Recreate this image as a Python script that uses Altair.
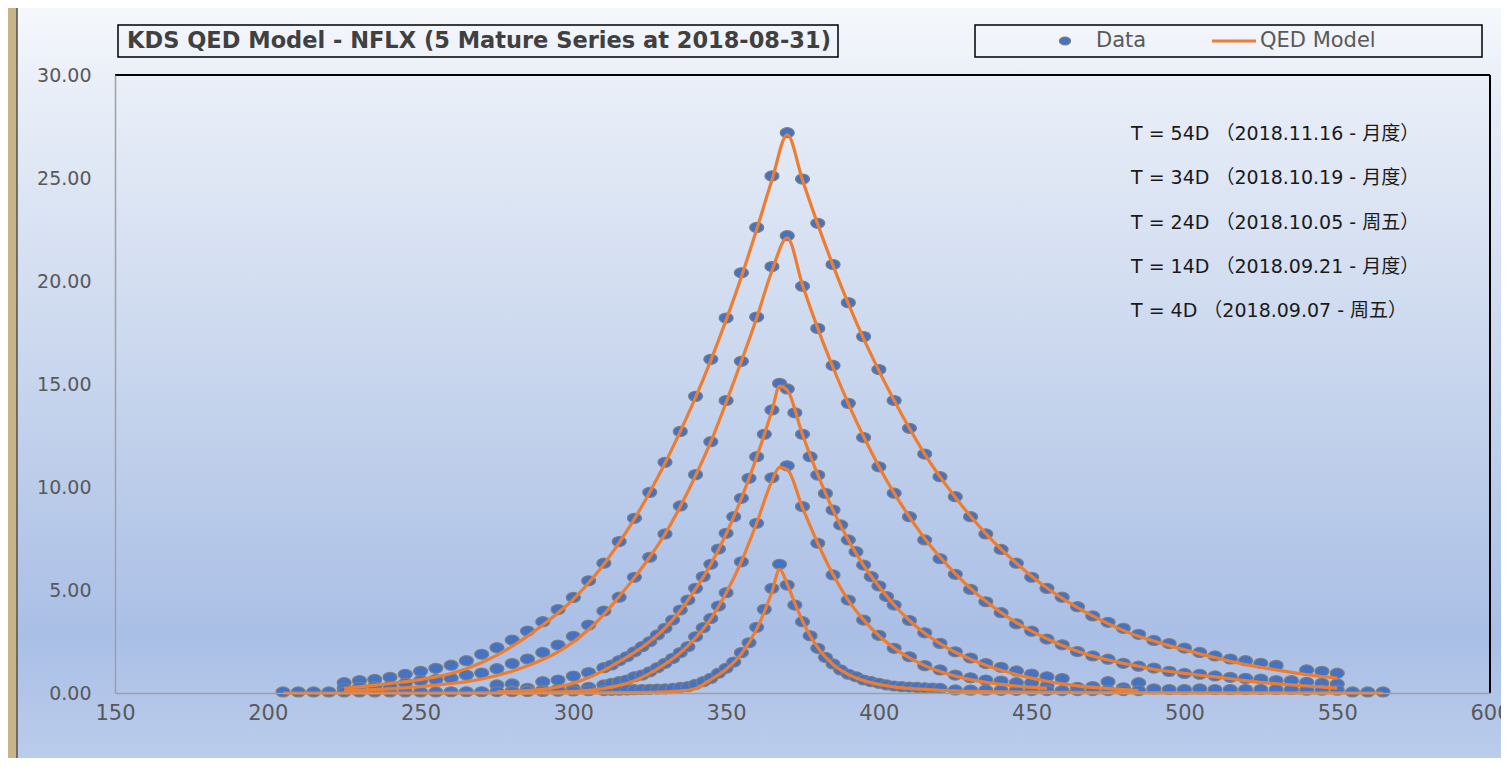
import altair as alt
import pandas as pd

# ---------------- data ----------------
SERIES = ["54D", "34D", "24D", "14D", "4D"]

K54 = [225, 230, 235, 240, 245, 250, 255, 260, 265, 270, 275, 280, 285, 290, 295, 300,
       305, 310, 315, 320, 325, 330, 335, 340, 345, 350, 355, 360, 365, 370, 375, 380,
       385, 390, 395, 400, 405, 410, 415, 420, 425, 430, 435, 440, 445, 450, 455, 460,
       465, 470, 475, 480, 485, 490, 495, 500, 505, 510, 515, 520, 525, 530, 540, 545, 550]
V54 = [0.50, 0.60, 0.66, 0.76, 0.91, 1.05, 1.20, 1.35, 1.57, 1.88, 2.20, 2.57, 3.01, 3.46, 4.05, 4.64,
       5.45, 6.30, 7.35, 8.48, 9.74, 11.2, 12.7, 14.4, 16.2, 18.2, 20.4, 22.6, 25.1, 27.2, 24.95, 22.8,
       20.8, 18.95, 17.3, 15.7, 14.2, 12.85, 11.6, 10.5, 9.53, 8.56, 7.72, 6.97, 6.30, 5.62, 5.08, 4.65,
       4.19, 3.74, 3.43, 3.14, 2.85, 2.55, 2.40, 2.18, 1.97, 1.80, 1.65, 1.57, 1.44, 1.34, 1.12, 1.05, 0.96]

K34 = [225, 230, 235, 240, 245, 250, 255, 260, 265, 270, 275, 280, 285, 290, 295, 300,
       305, 310, 315, 320, 325, 330, 335, 340, 345, 350, 355, 360, 365, 370, 375, 380,
       385, 390, 395, 400, 405, 410, 415, 420, 425, 430, 435, 440, 445, 450, 455, 460,
       465, 470, 475, 480, 485, 490, 495, 500, 505, 510, 515, 520, 525, 530, 535, 540, 545, 550]
V34 = [0.23, 0.28, 0.31, 0.34, 0.47, 0.60, 0.65, 0.72, 0.87, 0.97, 1.18, 1.43, 1.65, 1.97, 2.33, 2.75,
       3.30, 3.98, 4.65, 5.62, 6.59, 7.72, 9.08, 10.6, 12.2, 14.2, 16.1, 18.25, 20.7, 22.2, 19.75, 17.7,
       15.9, 14.06, 12.4, 10.98, 9.70, 8.56, 7.43, 6.52, 5.76, 5.03, 4.43, 3.90, 3.36, 3.00, 2.62, 2.34,
       2.01, 1.80, 1.64, 1.44, 1.30, 1.21, 1.05, 0.95, 0.91, 0.83, 0.76, 0.71, 0.68, 0.60, 0.60, 0.52, 0.47, 0.44]

K24 = [275, 280, 285, 290, 295, 300, 305, 310,
       312.5, 315, 317.5, 320, 322.5, 325, 327.5, 330, 332.5, 335, 337.5, 340, 342.5, 345, 347.5,
       350, 352.5, 355, 357.5, 360, 362.5, 365, 367.5, 370, 372.5, 375, 377.5, 380, 382.5, 385,
       387.5, 390, 392.5, 395, 397.5, 400, 402.5, 405,
       410, 415, 420, 425, 430, 435, 440, 445, 450, 455, 460, 465, 470, 475, 480, 485]
V24 = [0.39, 0.44, 0.23, 0.55, 0.63, 0.82, 0.99, 1.23,
       1.36, 1.57, 1.76, 2.00, 2.25, 2.49, 2.82, 3.14, 3.54, 4.03, 4.51, 5.08, 5.65, 6.25, 6.99,
       7.75, 8.56, 9.45, 10.42, 11.47, 12.56, 13.74, 15.03, 14.76, 13.6, 12.56, 11.47, 10.58, 9.69, 8.88,
       8.16, 7.43, 6.86, 6.21, 5.65, 5.20, 4.68, 4.27,
       3.52, 2.92, 2.41, 2.00, 1.70, 1.43, 1.25, 1.07, 0.92, 0.79, 0.70, 0.28, 0.31, 0.55, 0.25, 0.50]

K14 = [280, 285, 290, 295, 300, 305, 310,
       312.5, 315, 317.5, 320, 322.5, 325, 327.5, 330, 332.5, 335, 337.5, 340, 342.5, 345, 347.5, 350,
       355, 360, 365, 370, 375, 380, 385, 390, 395, 400, 405, 410, 415, 420, 425, 430, 435, 440, 445, 450, 455]
V14 = [0.10, 0.12, 0.15, 0.18, 0.22, 0.28, 0.39,
       0.47, 0.55, 0.63, 0.79, 0.87, 1.03, 1.23, 1.44, 1.68, 1.96, 2.25, 2.73, 3.17, 3.62, 4.22, 4.87,
       6.37, 8.24, 10.45, 11.03, 9.05, 7.27, 5.73, 4.51, 3.54, 2.80, 2.17, 1.76, 1.33, 1.12, 0.87, 0.74,
       0.63, 0.58, 0.50, 0.50, 0.34]

K4 = [205, 210, 215, 220, 225, 230, 235, 240, 245, 250, 255, 260, 265, 270, 275, 280, 285, 290, 295, 300, 305,
      310, 312.5, 315, 317.5, 320, 322.5, 325, 327.5, 330, 332.5, 335, 337.5, 340, 342.5, 345, 347.5, 350,
      352.5, 355, 357.5, 360, 362.5, 365, 367.5, 370, 372.5, 375, 377.5, 380, 382.5, 385, 387.5, 390, 392.5,
      395, 397.5, 400, 402.5, 405, 407.5, 410, 412.5, 415, 417.5, 420,
      425, 430, 435, 440, 445, 450, 455, 460, 465, 470, 475, 480, 485, 490, 495, 500, 505, 510, 515, 520,
      525, 530, 535, 540, 545, 550, 555, 560, 565]
V4 = [0.05, 0.05, 0.05, 0.05, 0.05, 0.05, 0.05, 0.05, 0.05, 0.05, 0.05, 0.06, 0.06, 0.06, 0.07, 0.07, 0.08,
      0.08, 0.09, 0.10, 0.11,
      0.12, 0.13, 0.14, 0.15, 0.16, 0.17, 0.18, 0.19, 0.20, 0.22, 0.27, 0.31, 0.42, 0.55, 0.71, 0.96, 1.20,
      1.50, 1.96, 2.44, 3.19, 4.06, 5.08, 6.25, 5.24, 4.27, 3.46, 2.78, 2.17, 1.73, 1.41, 1.12, 0.91, 0.79,
      0.63, 0.55, 0.47, 0.39, 0.34, 0.31, 0.29, 0.27, 0.25, 0.24, 0.22,
      0.15, 0.14, 0.14, 0.13, 0.13, 0.12, 0.12, 0.12, 0.12, 0.12, 0.12, 0.12, 0.12, 0.20, 0.17, 0.17, 0.20,
      0.17, 0.17, 0.17, 0.17, 0.17, 0.17, 0.14, 0.14, 0.14, 0.05, 0.05, 0.05]

# model curves (QED Model)
MK54 = [225, 230, 235, 240, 245, 250, 255, 260, 265, 270, 275, 280, 285, 290, 295, 300,
        305, 310, 315, 320, 325, 330, 335, 340, 345, 350, 355, 360, 365, 370, 375, 380,
        385, 390, 395, 400, 405, 410, 415, 420, 425, 430, 435, 440, 445, 450, 455, 460,
        465, 470, 475, 480, 485, 490, 495, 500, 505, 510, 515, 520, 525, 530, 535, 540, 545, 550]
MV54 = [0.23, 0.30, 0.38, 0.46, 0.55, 0.65, 0.78, 0.95, 1.18, 1.48, 1.84, 2.27, 2.76, 3.30, 3.90, 4.55,
        5.35, 6.25, 7.30, 8.45, 9.75, 11.15, 12.7, 14.35, 16.15, 18.1, 20.2, 22.5, 24.9, 27.1, 24.9, 22.75,
        20.75, 18.9, 17.2, 15.65, 14.2, 12.85, 11.6, 10.5, 9.50, 8.58, 7.74, 6.98, 6.30, 5.67, 5.10, 4.60,
        4.15, 3.74, 3.37, 3.04, 2.75, 2.52, 2.30, 2.10, 1.90, 1.72, 1.54, 1.38, 1.25, 1.12, 1.00, 0.89, 0.80, 0.72]

MK34 = MK54
MV34 = [0.10, 0.13, 0.16, 0.20, 0.25, 0.31, 0.38, 0.46, 0.55, 0.68, 0.85, 1.06, 1.32, 1.63, 2.00, 2.48,
        3.08, 3.82, 4.68, 5.60, 6.60, 7.72, 9.05, 10.55, 12.2, 14.1, 16.1, 18.2, 20.5, 22.1, 19.8, 17.7,
        15.8, 14.05, 12.45, 11.0, 9.70, 8.55, 7.50, 6.60, 5.80, 5.08, 4.45, 3.90, 3.42, 3.00, 2.63, 2.31,
        2.03, 1.79, 1.60, 1.44, 1.30, 1.15, 1.05, 0.95, 0.86, 0.78, 0.69, 0.60, 0.52, 0.45, 0.39, 0.34, 0.29, 0.24]

MK24 = [275, 280, 285, 290, 295, 300, 305, 310, 315, 320, 325, 330, 335, 340, 345, 350, 355, 360, 365,
        367.5, 370, 375, 380, 385, 390, 395, 400, 405, 410, 415, 420, 425, 430, 435, 440, 445, 450, 455,
        460, 465, 470, 475, 480, 485]
MV24 = [0.05, 0.08, 0.12, 0.18, 0.30, 0.47, 0.75, 1.10, 1.52, 1.97, 2.50, 3.15, 4.00, 5.05, 6.25, 7.72,
        9.45, 11.45, 13.7, 14.9, 14.7, 12.55, 10.6, 8.88, 7.43, 6.20, 5.18, 4.27, 3.52, 2.90, 2.40, 1.98,
        1.64, 1.35, 1.10, 0.90, 0.72, 0.57, 0.45, 0.35, 0.27, 0.21, 0.16, 0.12]

MK14 = [280, 290, 300, 305, 310, 315, 320, 325, 330, 335, 340, 345, 350, 355, 360, 365, 367.5, 370,
        375, 380, 385, 390, 395, 400, 405, 410, 415, 420, 425, 430, 435, 440, 445, 450, 455]
MV14 = [0.01, 0.03, 0.08, 0.13, 0.22, 0.37, 0.60, 0.95, 1.40, 1.95, 2.68, 3.60, 4.85, 6.38, 8.25, 10.3,
        10.95, 10.85, 9.00, 7.27, 5.75, 4.50, 3.55, 2.78, 2.18, 1.70, 1.33, 1.04, 0.82, 0.65, 0.52, 0.42,
        0.34, 0.27, 0.22]

MK4 = [205, 250, 300, 320, 330, 335, 340, 345, 350, 355, 360, 365, 367.5, 370, 372.5, 375, 380, 385,
       390, 395, 400, 405, 410, 420, 430, 440, 460, 500, 565]
MV4 = [0.00, 0.00, 0.01, 0.02, 0.05, 0.10, 0.22, 0.65, 1.15, 1.90, 3.10, 4.90, 6.00, 5.30, 4.35, 3.50,
       2.20, 1.38, 0.90, 0.60, 0.42, 0.30, 0.22, 0.13, 0.08, 0.05, 0.03, 0.01, 0.00]

X_TICKS = [150, 200, 250, 300, 350, 400, 450, 500, 550, 600]
Y_TICKS = [0, 5, 10, 15, 20, 25, 30]

TITLE = "KDS QED Model - NFLX (5 Mature Series at 2018-08-31)"
LEGEND_LABELS = ["Data", "QED Model"]
NOTES = ["T = 54D （2018.11.16 - 月度）",
         "T = 34D （2018.10.19 - 月度）",
         "T = 24D （2018.10.05 - 周五）",
         "T = 14D （2018.09.21 - 月度）",
         "T = 4D （2018.09.07 - 周五）"]

data_sets = [(K54, V54), (K34, V34), (K24, V24), (K14, V14), (K4, V4)]
model_sets = [(MK54, MV54), (MK34, MV34), (MK24, MV24), (MK14, MV14), (MK4, MV4)]
for k, v in data_sets + model_sets:
    assert len(k) == len(v), (len(k), len(v))

pts = pd.concat([pd.DataFrame({"K": k, "V": v, "s": s}) for s, (k, v) in zip(SERIES, data_sets)],
                ignore_index=True)
mdl = pd.concat([pd.DataFrame({"K": k, "V": v, "s": s}) for s, (k, v) in zip(SERIES, model_sets)],
                ignore_index=True)

# ---------------- layout ----------------
W, H = 1375, 618
ELLIPSE = "M-1.4,0A1.4,1,0,1,1,1.4,0A1.4,1,0,1,1,-1.4,0Z"
BLUE = "#4472C4"
ORANGE = "#ED7D31"
GREY = "#595959"
one = alt.Data(values=[{}])

panel_grad = alt.LinearGradient(
    gradient="linear", x1=0, y1=0, x2=0, y2=1,
    stops=[alt.GradientStop(color="#F6F8FC", offset=0),
           alt.GradientStop(color="#EAEFF8", offset=0.09),
           alt.GradientStop(color="#C3D2EC", offset=0.51),
           alt.GradientStop(color="#AABFE6", offset=0.78),
           alt.GradientStop(color="#C2D2EE", offset=1)])

panel = alt.Chart(one).mark_rect(fill=panel_grad, stroke="#505050", strokeWidth=1.5).encode(
    x=alt.value(-98), x2=alt.value(W + 40), y=alt.value(-68), y2=alt.value(H + 120))

top_line = alt.Chart(one).mark_rule(color="black", strokeWidth=2).encode(
    x=alt.value(0), x2=alt.value(W), y=alt.value(0))
right_line = alt.Chart(one).mark_rule(color="black", strokeWidth=2).encode(
    x=alt.value(W), y=alt.value(0), y2=alt.value(H))

x_enc = alt.X("K:Q", title=None,
              scale=alt.Scale(domain=[150, 600], nice=False, zero=False),
              axis=alt.Axis(values=X_TICKS, grid=False, ticks=False, tickSize=0,
                            labelFont="DejaVu Sans", labelFontSize=21, labelColor=GREY,
                            labelPadding=9, domainColor="#A0A0A0", domainWidth=1.5,
                            labelFlush=False, zindex=1))
y_enc = alt.Y("V:Q", title=None,
              scale=alt.Scale(domain=[0, 30], nice=False),
              axis=alt.Axis(values=Y_TICKS, format=".2f", grid=False, ticks=False, tickSize=0,
                            labelFont="DejaVu Sans", labelFontSize=19, labelColor=GREY,
                            labelPadding=24, domainColor="#A0A0A0", domainWidth=1.5,
                            labelFlush=False, zindex=1))

points = alt.Chart(pts).mark_point(
    shape=ELLIPSE, filled=True, fill=BLUE, stroke="#7F7F7F", strokeWidth=1.2,
    size=100, opacity=1).encode(x=x_enc, y=y_enc)

lines = alt.Chart(mdl).mark_line(
    color=ORANGE, strokeWidth=3.2, interpolate="monotone").encode(
    x="K:Q", y="V:Q", detail="s:N")

# title box
title_box = alt.Chart(one).mark_rect(fill="white", fillOpacity=0, stroke="black", strokeWidth=1.5).encode(
    x=alt.value(3), x2=alt.value(723), y=alt.value(-50), y2=alt.value(-18))
title_txt = alt.Chart(one).mark_text(
    text=TITLE, font="DejaVu Sans", fontWeight="bold", fontSize=22.5, color="#404040",
    align="center", baseline="middle").encode(x=alt.value(364), y=alt.value(-34))

# legend box
leg_box = alt.Chart(one).mark_rect(fill="white", fillOpacity=0, stroke="black", strokeWidth=1.5).encode(
    x=alt.value(860), x2=alt.value(1367), y=alt.value(-50), y2=alt.value(-18))
leg_dot = alt.Chart(one).mark_point(
    shape=ELLIPSE, filled=True, fill=BLUE, stroke="#7F7F7F", strokeWidth=1.2, size=64, opacity=1).encode(
    x=alt.value(950), y=alt.value(-34))
leg_line = alt.Chart(one).mark_rule(color=ORANGE, strokeWidth=3).encode(
    x=alt.value(1097), x2=alt.value(1141), y=alt.value(-34))
leg_t1 = alt.Chart(one).mark_text(
    text=LEGEND_LABELS[0], font="DejaVu Sans", fontSize=21, color=GREY,
    align="left", baseline="middle").encode(x=alt.value(981), y=alt.value(-34))
leg_t2 = alt.Chart(one).mark_text(
    text=LEGEND_LABELS[1], font="DejaVu Sans", fontSize=21, color=GREY,
    align="left", baseline="middle").encode(x=alt.value(1145), y=alt.value(-34))

notes = [alt.Chart(one).mark_text(
    text=t, font="DejaVu Sans, Noto Sans CJK SC", fontSize=19, color="#1A1A1A",
    align="left", baseline="middle").encode(x=alt.value(1016), y=alt.value(59 + i * 44.3))
    for i, t in enumerate(NOTES)]

chart = alt.layer(
    panel, points, lines, top_line, right_line,
    title_box, title_txt, leg_box, leg_dot, leg_line, leg_t1, leg_t2, *notes
).properties(
    width=W, height=H,
    padding={"left": 107, "top": 67, "right": 11, "bottom": 65},
    autosize=alt.AutoSizeParams(type="none"),
).configure(background="#C9B48A").configure_view(stroke="transparent")

chart.save("out.html", embed_options={"renderer": "svg", "actions": False})
